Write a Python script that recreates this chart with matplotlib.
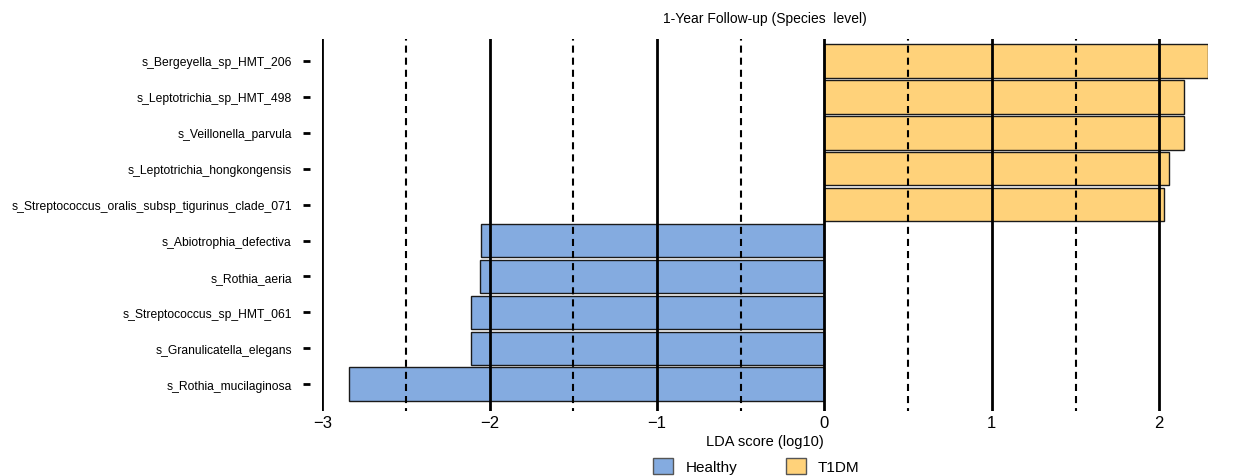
import matplotlib.pyplot as plt
from matplotlib.patches import Patch

plt.rcParams['font.family'] = ['Liberation Sans', 'DejaVu Sans']

# LEfSe results, top row first
species = [
    "s_Bergeyella_sp_HMT_206",
    "s_Leptotrichia_sp_HMT_498",
    "s_Veillonella_parvula",
    "s_Leptotrichia_hongkongensis",
    "s_Streptococcus_oralis_subsp_tigurinus_clade_071",
    "s_Abiotrophia_defectiva",
    "s_Rothia_aeria",
    "s_Streptococcus_sp_HMT_061",
    "s_Granulicatella_elegans",
    "s_Rothia_mucilaginosa",
]
lda_scores = [2.29, 2.15, 2.15, 2.06, 2.03, -2.05, -2.06, -2.11, -2.11, -2.84]
groups = ["T1DM"] * 5 + ["Healthy"] * 5

group_colors = {"Healthy": "#84ABE0", "T1DM": "#FFD27A"}
solid_ticks = [-3, -2, -1, 0, 1, 2]
dashed_ticks = [-2.5, -1.5, -0.5, 0.5, 1.5]

fig = plt.figure(figsize=(12.4, 4.77), dpi=100)
ax = fig.add_axes([0.26, 0.136, 0.714, 0.78])

ypos = list(range(len(species)))
colors = [group_colors[g] for g in groups]
ax.barh(ypos, lda_scores, height=0.93, color=colors, edgecolor="#1a1a1a",
        linewidth=1.0, zorder=1)

for x in solid_ticks:
    ax.axvline(x, color="black", linewidth=2.0, zorder=2)
for x in dashed_ticks:
    ax.axvline(x, color="black", linewidth=1.5, linestyle=(2, (3.4, 2.4)), zorder=2)

ax.set_ylim(len(species) - 1 + 0.75, -0.61)
ax.set_xlim(-3, max(lda_scores))

ax.set_yticks(ypos)
ax.set_yticklabels(species, color="#222222")
ax.tick_params(axis="y", labelsize=8.7, length=5, width=2, pad=8, color="black")
ax.spines["left"].set_position(("outward", 9))

ax.set_xticks(solid_ticks)
ax.set_xticklabels([str(t).replace("-", "\u2212") for t in solid_ticks])
ax.tick_params(axis="x", labelsize=12, length=0, pad=3)

for s in ax.spines.values():
    s.set_visible(False)

ax.set_xlabel("LDA score (log10)", fontsize=10.5, labelpad=3)
ax.set_title("1-Year Follow-up (Species  level)", fontsize=10, pad=12)

handles = [Patch(facecolor=group_colors[g], edgecolor="#555555", label=g)
           for g in ["Healthy", "T1DM"]]
fig.legend(handles=handles, loc="lower center", bbox_to_anchor=(0.61, -0.025),
           ncol=2, frameon=False, fontsize=11, handlelength=1.3,
           handleheight=1.3, columnspacing=3.2)

fig.savefig("out.png", dpi=100)
